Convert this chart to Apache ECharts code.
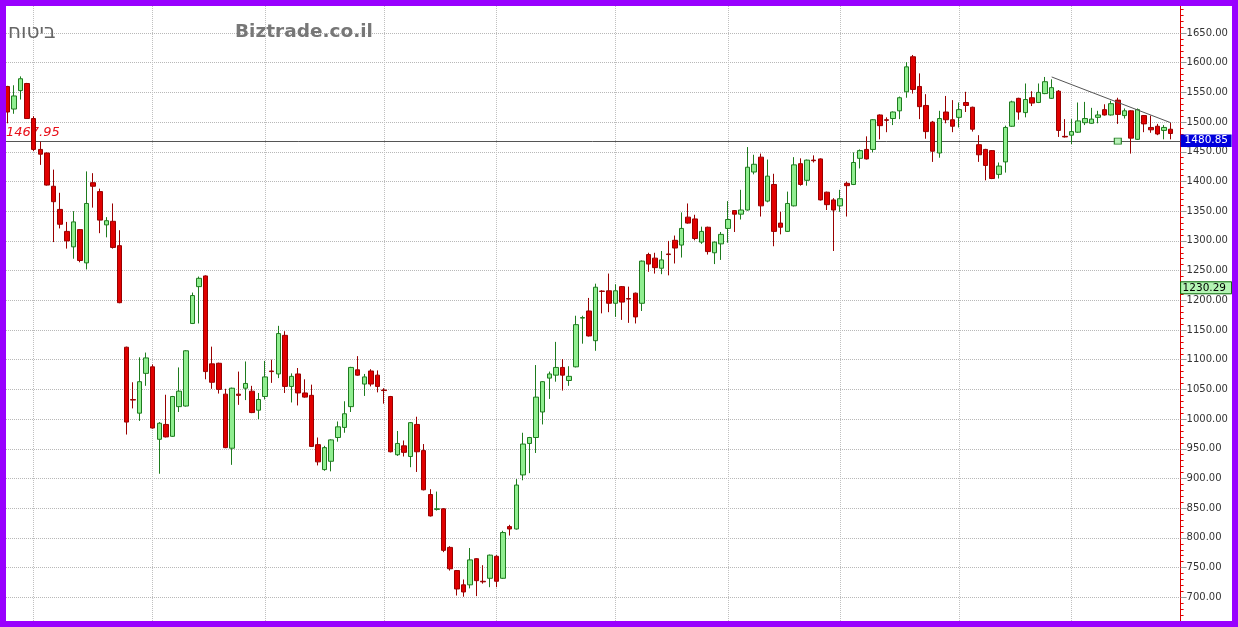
<!DOCTYPE html>
<html><head><meta charset="utf-8">
<script src="https://cdn.jsdelivr.net/npm/echarts@6/dist/echarts.min.js"></script>
<style>html,body{margin:0;padding:0;background:#fff}#c{width:1238px;height:627px}</style>
</head><body><div id="c"></div>
<script>
// ---- data ----
const opens = [1560,1522,1553,1565,1506,1454,1448,1392,1353,1316,1290,1319,1263,1398,1383,1327,1333,1292,1121,1033,
1010,1077,1088,966,991,971,1021,1022,1161,1223,1241,1093,1094,1042,951,1042,1052,1047,1015,1038,
1081,1076,1141,1055,1076,1044,1040,957,915,929,969,986,1021,1083,1059,1081,1074,1049,1038,940,
955,937,991,947,873,848,849,784,745,721,721,765,727,732,769,732,819,815,906,959,
969,1012,1069,1074,1087,1065,1088,1170,1182,1132,1215.5,1216,1195,1223,1203,1212,1195,1277,1271,1254,
1278,1301,1293,1340,1337,1298,1323,1280,1295,1321,1351,1345,1352,1416,1441,1367,1395,1330,1316,1359,
1430,1402,1436,1438,1382,1369,1359,1397,1395,1439,1454,1454,1512,1504,1506,1519,1551,1610,1560,1528,
1500,1448,1517,1504,1508,1533,1525,1462,1454,1452,1412,1433,1493,1540,1516,1541,1533,1548,1540,1552,
1476,1478,1483,1499,1498,1508,1521,1512,1537,1511,1519,1471,1511,1491,1493,1486,1488];
const closes = [1517,1544,1573,1506,1454,1446,1394,1366,1328,1300,1332,1267,1363,1392,1335,1334,1289,1196,995,1032,
1063,1103,985,993,970,1038,1047,1115,1208,1237,1080,1062,1050,952,1052,1040,1060,1011,1033,1071,
1080,1144,1055,1072,1044,1037,954,928,952,965,987,1009,1087,1074,1071,1059,1055,1048,945,959,
944,994,945,881,837,849,779,748,714,709,763,728,726,771,727,809,815,889,958,969,
1037,1063,1076,1087,1074,1072,1159,1171,1140,1222,1215,1195,1216,1197,1202,1172,1266,1261,1255,1268,
1277,1288,1321,1330,1304,1316,1282,1298,1311,1336,1345,1352,1424,1429,1359,1409,1316,1323,1363,1428,
1395,1436,1435,1369,1361,1352,1371,1393,1432,1452,1438,1504,1494,1503,1517,1541,1593,1555,1526,1484,
1451,1506,1504,1493,1521,1528,1488,1445,1427,1405,1426,1491,1534,1517,1538,1532,1550,1568,1558,1486,
1475,1484,1502,1506,1505,1512,1512,1531,1513,1519,1473,1521,1497,1487,1480,1491,1480.85];
const lows = [1498,1514,1538,1506,1451,1428,1393,1298,1321,1287,1270,1264,1252,1356,1313,1306,1287,1195,974,1018,
997,1056,984,908,969,970,1012,1021,1160,1161,1067,1051,1043,951,923,1024,1032,1010,1000,1033,
1061,1069,1044,1028,1023,1036,953,922,913,912,962,977,1012,1073,1039,1055,1045,1026,944,938,
937,919,911,880,836,846,776,745,703,701,715,702,723,717,717,731,804,814,897,909,
943,991,1034,1063,1048,1056,1087,1127,1139,1115,1178,1180,1172,1167,1162,1161,1182,1248,1245,1244,
1242,1262,1272,1329,1301,1295,1277,1261,1268,1297,1315,1336,1351,1412,1341,1365,1291,1311,1315,1358,
1393,1393,1432,1368,1352,1283,1349,1341,1394,1422,1437,1449,1471,1483,1495,1505,1541,1548,1505,1472,
1433,1440,1498,1483,1491,1517,1484,1433,1402,1404,1405,1415,1492,1504,1508,1527,1532,1547,1539,1475,
1474,1463,1482,1495,1497,1498,1511,1511,1497,1506,1447,1470,1483,1482,1478,1471,1471];
const highs = [1561,1562,1577,1566,1510,1467,1449,1420,1381,1332,1350,1320,1417,1414,1388,1340,1363,1318,1122,1062,
1104,1112,1092,995,1041,1039,1087,1116,1213,1240,1242,1122,1095,1051,1053,1080,1097,1056,1044,1098,
1100,1157,1148,1077,1086,1067,1058,969,955,966,996,1030,1088,1106,1076,1084,1082,1052,1039,980,
964,995,1004,958,882,878,850,786,746,730,783,766,754,772,771,812,822,899,977,970,
1091,1064,1080,1130,1101,1089,1174,1174,1204,1228,1217,1245,1227,1224,1223,1213,1267,1280,1280,1283,
1300,1309,1348,1363,1344,1324,1324,1299,1315,1367,1352,1386,1458,1445,1447,1437,1413,1349,1383,1441,
1439,1437,1444,1439,1383,1372,1386,1400,1449,1454,1476,1505,1513,1508,1518,1543,1601,1613,1582,1547,
1502,1519,1544,1537,1533,1551,1526,1478,1455,1453,1432,1494,1536,1541,1565,1552,1565,1576,1572,1554,
1505,1505,1533,1534,1524,1519,1530,1536,1541,1523,1520,1523,1512,1511,1497,1495,1499];
const categories = [];
for (let i = 0; i < opens.length + 1; i++) categories.push(String(i + 1));
const yTickValues = [700,750,800,850,900,950,1000,1050,1100,1150,1200,1250,1300,1350,1400,1450,1500,1550,1600,1650];
const verticalGridIdx = [4, 22, 39, 57, 74, 92, 109, 126, 144, 161];
const refLevel = 1467.95;
const lastPrice = 1480.85;
const sideValue = 1230.29;
const trendStart = [158, 1576];
const trendEnd = [176, 1499];
const markerPoint = [168, 1467.95];
const titleText = 'ביטוח';
const brandText = 'Biztrade.co.il';

// ---- layout ----
const G = { left: 4, top: 3.3, width: 1176.6, height: 630 };
const chart = echarts.init(document.getElementById('c'), null, { renderer: 'canvas' });
const candles = opens.map((o, i) => [o, closes[i], lows[i], highs[i]]);

const option = {
  animation: false,
  backgroundColor: '#ffffff',
  grid: { left: G.left, top: G.top, width: G.width, height: G.height, containLabel: false },
  xAxis: {
    type: 'category', data: categories, boundaryGap: true,
    axisLine: { show: false }, axisTick: { show: false }, axisLabel: { show: false },
    splitLine: { show: false }
  },
  yAxis: {
    type: 'value', position: 'right', min: 650, max: 1700, interval: 50, scale: true,
    axisLine: { show: true, lineStyle: { color: '#e00000', width: 1 } },
    axisTick: { show: true, length: 6, lineStyle: { color: '#999' } },
    minorTick: { show: true, splitNumber: 5, length: 3, lineStyle: { color: '#e00000' } },
    axisLabel: {
      margin: 6, color: '#333', fontFamily: 'DejaVu Sans', fontSize: 10,
      formatter: v => yTickValues.indexOf(v) >= 0 ? v.toFixed(2) : ''
    },
    splitLine: { show: true, lineStyle: { color: '#b8b8b8', type: 'dotted', width: 1 } }
  },
  series: [
    {
      type: 'line', data: [], z: 1, silent: true,
      markLine: {
        silent: true, symbol: ['none', 'none'], z: 1, animation: false,
        data: verticalGridIdx.map(i => ({ xAxis: i, lineStyle: { color: '#c0c0c0', type: 'dotted', width: 1 }, label: { show: false } }))
          .concat([{
            yAxis: refLevel,
            lineStyle: { color: '#555', type: 'solid', width: 1 },
            label: {
              show: true, position: 'insideStartTop', distance: [2, 2],
              formatter: refLevel.toFixed(2), color: '#e8101a', fontStyle: 'italic',
              fontFamily: 'DejaVu Sans', fontSize: 13
            }
          }])
      }
    },
    {
      type: 'candlestick', data: candles, barWidth: 5, z: 2,
      itemStyle: {
        color: '#90ee90', color0: '#e00000',
        borderColor: '#1e7b1e', borderColor0: '#990000', borderWidth: 1
      }
    },
    {
      type: 'line', data: [], z: 4, silent: true,
      markLine: {
        silent: true, symbol: ['none', 'none'], z: 4, animation: false,
        data: [[{ coord: trendStart }, { coord: trendEnd }]],
        lineStyle: { color: '#555', type: 'solid', width: 1 },
        label: { show: false }
      },
      markPoint: {
        silent: true, z: 4, animation: false,
        data: [{ coord: markerPoint, symbol: 'rect', symbolSize: [7, 6],
          itemStyle: { color: '#b8f0b8', borderColor: '#1e7b1e', borderWidth: 1 }, label: { show: false } }]
      }
    }
  ]
};
chart.setOption(option);

const axisX = G.left + G.width;
const yLast = chart.convertToPixel({ yAxisIndex: 0 }, lastPrice);
const ySide = chart.convertToPixel({ yAxisIndex: 0 }, sideValue);
chart.setOption({
  graphic: [
    { type: 'text', z: 50, left: 8, top: 23, style: { text: titleText, fill: '#666', font: '20px "DejaVu Sans"' } },
    { type: 'text', z: 50, left: 235, top: 23, style: { text: brandText, fill: '#777', font: 'bold 18.5px "DejaVu Sans"' } },
    { type: 'rect', z: 60, shape: { x: axisX, y: yLast + 1, width: 51, height: 12.5 }, style: { fill: '#0000dd' } },
    { type: 'text', z: 61, x: axisX + 4, y: yLast + 1.5, style: { text: lastPrice.toFixed(2), fill: '#fff', font: '10.5px "DejaVu Sans"' } },
    { type: 'rect', z: 60, shape: { x: axisX, y: ySide - 0.5, width: 51, height: 12 }, style: { fill: '#b4f4b4', stroke: '#006400', lineWidth: 1 } },
    { type: 'text', z: 61, x: axisX + 2, y: ySide, style: { text: sideValue.toFixed(2), fill: '#000', font: '10.5px "DejaVu Sans"' } },
    { type: 'rect', z: 100, shape: { x: 3, y: 3, width: 1232, height: 621 }, style: { fill: 'none', stroke: '#9900ff', lineWidth: 6 } }
  ]
});
</script></body></html>
